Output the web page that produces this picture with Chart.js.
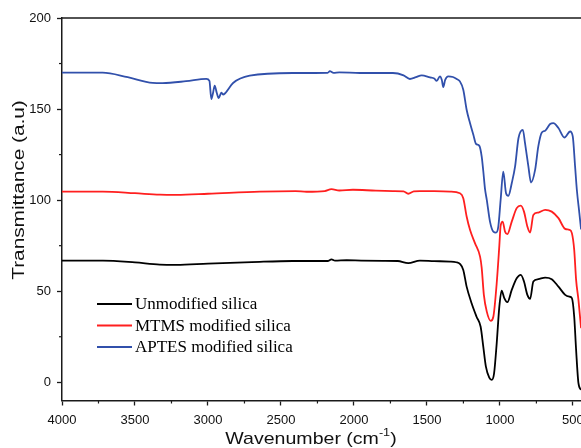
<!DOCTYPE html>
<html>
<head>
<meta charset="utf-8">
<script src="https://cdn.jsdelivr.net/npm/chart.js@4.4.1/dist/chart.umd.min.js"></script>
<style>
  html, body { margin: 0; padding: 0; background: #fff; }
  #wrap { width: 581px; height: 448px; overflow: hidden; }
</style>
</head>
<body>
<div id="wrap"><canvas id="myChart" width="640" height="448"></canvas></div>
<script>
// series labels and colours
const seriesNames = ["Unmodified silica", "MTMS modified silica", "APTES modified silica"];
const seriesColors = ["#000000", "#ff1f1f", "#3150ab"];

// Unmodified silica
const unmodWn = [4000, 3720, 3500, 3330, 3215, 3000, 2700, 2420, 2300, 2180, 2154, 2130, 2050, 1950, 1800, 1700, 1628, 1548, 1450, 1342, 1300, 1274, 1251, 1228, 1194, 1160, 1132, 1114, 1096, 1073, 1056, 1040, 1022, 1004, 988, 970, 949, 919, 885, 857, 835, 812, 793, 771, 737, 690, 645, 599, 553, 524, 507, 491, 478, 462, 444];
const unmodT = [66.8, 66.8, 65.8, 64.6, 64.5, 65.2, 66.0, 66.6, 66.6, 66.6, 67.5, 66.8, 67.0, 66.8, 66.7, 66.6, 65.4, 66.8, 66.5, 66.3, 65.9, 65.0, 61.7, 52.5, 43.4, 36.0, 30.5, 19.6, 8.6, 2.5, 1.3, 4.9, 21.4, 41.5, 50.3, 46.2, 44.0, 50.7, 57.1, 59.0, 55.3, 48.0, 45.8, 55.3, 56.6, 57.5, 56.6, 52.5, 48.0, 47.0, 46.2, 36.0, 17.7, -0.5, -4.2];

// MTMS modified silica
const mtmsWn = [4000, 3720, 3500, 3330, 3215, 3000, 2645, 2400, 2325, 2200, 2154, 2100, 2007, 1850, 1733, 1660, 1628, 1590, 1548, 1450, 1342, 1274, 1251, 1228, 1205, 1171, 1136, 1125, 1110, 1090, 1063, 1045, 1022, 1004, 995, 981, 965, 949, 919, 885, 857, 835, 812, 793, 771, 737, 690, 645, 599, 553, 524, 507, 491, 478, 462, 444];
const mtmsT = [104.7, 104.7, 103.8, 103.0, 102.9, 103.5, 104.7, 105.0, 104.6, 105.0, 106.0, 105.3, 105.7, 105.2, 105.0, 104.8, 103.5, 104.8, 105.0, 104.9, 104.7, 103.8, 101.1, 91.0, 83.7, 76.4, 69.0, 63.0, 48.0, 38.8, 33.7, 36.0, 54.4, 75.0, 86.0, 88.2, 82.7, 81.3, 88.2, 95.6, 97.0, 93.7, 85.5, 82.2, 91.9, 93.2, 94.7, 93.7, 90.1, 84.2, 83.7, 81.9, 72.7, 56.2, 45.2, 29.7];

// APTES modified silica
const aptesWn = [4000, 3722, 3550, 3379, 3311, 3150, 3011, 2990, 2977, 2965, 2954, 2940, 2927, 2908, 2897, 2881, 2828, 2714, 2419, 2180, 2165, 2140, 2100, 1959, 1733, 1660, 1617, 1575, 1536, 1479, 1450, 1433, 1411, 1398, 1388, 1375, 1354, 1322, 1296, 1274, 1251, 1228, 1205, 1182, 1164, 1141, 1125, 1114, 1102, 1090, 1068, 1045, 1027, 1011, 995, 977, 958, 942, 919, 896, 873, 843, 828, 805, 787, 759, 737, 713, 690, 656, 634, 599, 558, 519, 501, 485, 473, 456, 444];
const aptesT = [170.0, 170.0, 167.5, 164.4, 164.3, 165.3, 166.6, 165.5, 155.5, 159.0, 162.8, 159.0, 156.0, 159.0, 157.9, 158.8, 164.3, 168.3, 169.8, 169.9, 170.8, 169.9, 170.2, 169.8, 169.8, 168.5, 166.5, 167.5, 168.5, 167.4, 166.8, 165.5, 168.0, 166.0, 162.1, 166.0, 168.0, 167.6, 166.5, 165.2, 160.6, 149.6, 142.3, 135.9, 130.9, 129.8, 124.0, 116.0, 106.0, 100.2, 88.2, 82.7, 82.2, 85.5, 100.2, 115.7, 103.8, 102.4, 109.3, 118.5, 134.0, 138.6, 131.3, 118.5, 109.7, 116.6, 129.5, 137.1, 138.1, 141.8, 142.3, 139.6, 134.4, 137.7, 135.0, 118.5, 105.7, 93.0, 84.0];

// axis ticks
const xMajor = [4000, 3500, 3000, 2500, 2000, 1500, 1000, 500];
const xMinor = [3750, 3250, 2750, 2250, 1750, 1250, 750];
const yMajor = [0, 50, 100, 150, 200];
const yMinor = [25, 75, 125, 175];

const allWn = [unmodWn, mtmsWn, aptesWn];
const allT = [unmodT, mtmsT, aptesT];

const axisColor = "#1a1a1a";
const sans = "'Liberation Sans', Arial, sans-serif";

const decorations = {
  id: "decorations",
  afterDraw(chart) {
    const { ctx, chartArea, scales } = chart;
    ctx.save();
    ctx.strokeStyle = axisColor;
    ctx.lineWidth = 1.5;
    // top frame line
    ctx.beginPath();
    ctx.moveTo(chartArea.left, chartArea.top);
    ctx.lineTo(chartArea.right, chartArea.top);
    ctx.stroke();
    // minor ticks
    ctx.lineWidth = 1.2;
    xMinor.forEach((v) => {
      const px = scales.x.getPixelForValue(v);
      ctx.beginPath();
      ctx.moveTo(px, chartArea.bottom);
      ctx.lineTo(px, chartArea.bottom + 3);
      ctx.stroke();
    });
    yMinor.forEach((v) => {
      const py = scales.y.getPixelForValue(v);
      ctx.beginPath();
      ctx.moveTo(chartArea.left, py);
      ctx.lineTo(chartArea.left - 3, py);
      ctx.stroke();
    });

    // axis titles
    ctx.fillStyle = "#111";
    ctx.textBaseline = "middle";
    ctx.save();
    ctx.translate(20, 190);
    ctx.rotate(-Math.PI / 2);
    ctx.scale(1.3, 1);
    ctx.textAlign = "center";
    ctx.font = "16px " + sans;
    ctx.fillText("Transmittance (a.u)", 0, 0);
    ctx.restore();

    const main = "Wavenumber (cm";
    const sup = "-1";
    const tail = ")";
    ctx.font = "17px " + sans;
    const w1 = ctx.measureText(main).width;
    const w3 = ctx.measureText(tail).width;
    ctx.font = "11px " + sans;
    const w2 = ctx.measureText(sup).width;
    ctx.save();
    ctx.translate(311, 439);
    ctx.scale(1.15, 1);
    const x0 = -(w1 + w2 + w3) / 2;
    ctx.textAlign = "left";
    ctx.font = "17px " + sans;
    ctx.fillText(main, x0, 0);
    ctx.font = "11px " + sans;
    ctx.fillText(sup, x0 + w1, -6);
    ctx.font = "17px " + sans;
    ctx.fillText(tail, x0 + w1 + w2, 0);
    ctx.restore();

    // legend
    ctx.font = "17px 'Liberation Serif', 'Times New Roman', serif";
    ctx.textAlign = "left";
    ctx.lineWidth = 2;
    const legendY = [304, 325.5, 347];
    seriesNames.forEach((name, i) => {
      ctx.strokeStyle = seriesColors[i];
      ctx.beginPath();
      ctx.moveTo(97, legendY[i]);
      ctx.lineTo(132, legendY[i]);
      ctx.stroke();
      ctx.fillStyle = "#000";
      ctx.fillText(name, 135, legendY[i] + 1);
    });
    ctx.restore();
  },
};

const ctx = document.getElementById("myChart").getContext("2d");

const myChart = new Chart(ctx, {
  type: "line",
  data: {
    datasets: seriesNames.map((name, i) => ({
      label: name,
      data: allWn[i].map((w, k) => ({ x: w, y: allT[i][k] })),
      borderColor: seriesColors[i],
      borderWidth: 1.8,
      pointRadius: 0,
      fill: false,
      cubicInterpolationMode: "monotone",
    })),
  },
  options: {
    responsive: false,
    animation: false,
    layout: {
      padding: { left: 0, right: 52.5, top: 18, bottom: 0 },
    },
    scales: {
      x: {
        type: "linear",
        reverse: true,
        min: 400,
        max: 4000,
        afterBuildTicks: (scale) => {
          scale.ticks = xMajor.map((v) => ({ value: v }));
        },
        afterFit: (scale) => {
          scale.height = 47.5;
        },
        ticks: {
          color: "#111",
          padding: 7,
          maxRotation: 0,
          callback: (v) => String(v),
          font: { family: sans, size: 13 },
        },
        grid: {
          drawOnChartArea: false,
          tickLength: 5,
          tickWidth: 1.3,
          tickColor: axisColor,
        },
        border: { color: axisColor, width: 1.5 },
      },
      y: {
        min: -10,
        max: 200,
        afterBuildTicks: (scale) => {
          scale.ticks = yMajor.map((v) => ({ value: v }));
        },
        afterFit: (scale) => {
          scale.width = 62;
        },
        ticks: {
          color: "#111",
          padding: 6,
          callback: (v) => String(v),
          font: { family: sans, size: 13 },
        },
        grid: {
          drawOnChartArea: false,
          tickLength: 5,
          tickWidth: 1.3,
          tickColor: axisColor,
        },
        border: { color: axisColor, width: 1.5 },
      },
    },
    plugins: {
      legend: { display: false },
      tooltip: { enabled: false },
    },
  },
  plugins: [decorations],
});
</script>
</body>
</html>
